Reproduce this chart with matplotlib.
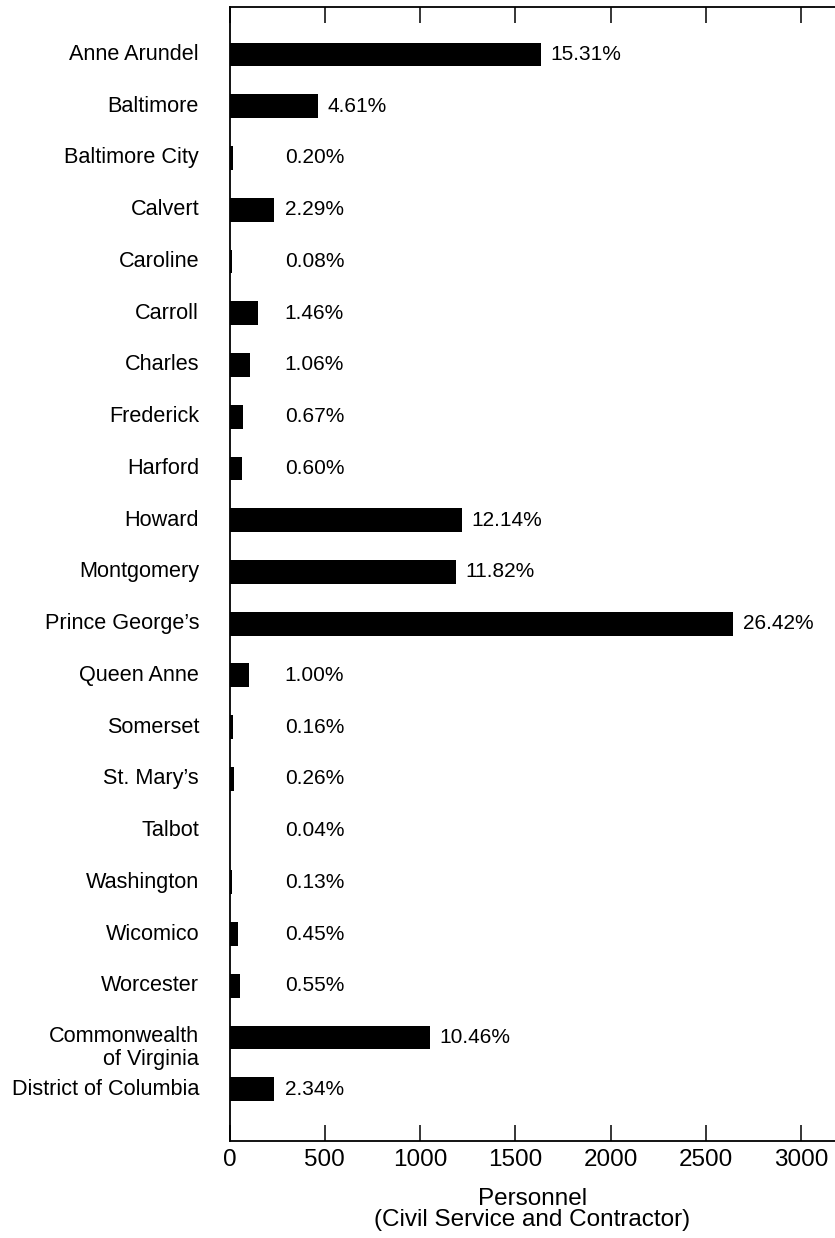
import matplotlib.pyplot as plt
import numpy as np

plt.rcParams['font.family'] = ['Liberation Sans', 'DejaVu Sans']

counties = ['Anne Arundel', 'Baltimore', 'Baltimore City', 'Calvert', 'Caroline',
            'Carroll', 'Charles', 'Frederick', 'Harford', 'Howard', 'Montgomery',
            "Prince George\u2019s", 'Queen Anne', 'Somerset', 'St. Mary\u2019s', 'Talbot',
            'Washington', 'Wicomico', 'Worcester', 'Commonwealth\nof Virginia',
            'District of Columbia']
personnel = [1635, 465, 20, 234, 12, 150, 110, 70, 63, 1220, 1188, 2643, 100,
             16, 26, 4, 15, 45, 55, 1052, 235]
percents = ['15.31%', '4.61%', '0.20%', '2.29%', '0.08%', '1.46%', '1.06%', '0.67%',
            '0.60%', '12.14%', '11.82%', '26.42%', '1.00%', '0.16%', '0.26%', '0.04%',
            '0.13%', '0.45%', '0.55%', '10.46%', '2.34%']
xticks = [0, 500, 1000, 1500, 2000, 2500, 3000]

fig = plt.figure(figsize=(8.35, 12.38), dpi=100)
ax = fig.add_axes([0.2749, 0.0784, 0.7251, 0.9160])

y = np.arange(len(counties))
ax.barh(y, personnel, height=0.46, color='black')

for i, (v, p) in enumerate(zip(personnel, percents)):
    ax.text(max(v, 240) + 50, i, p, va='center', ha='left', fontsize=15)

# category labels on the left, first line of a two-line name sits on the bar
for i, name in enumerate(counties):
    if '\n' in name:
        ax.text(-160, i + 0.21, name, va='center', ha='right', fontsize=15.6,
                linespacing=1.12)
    else:
        ax.text(-160, i, name, va='center', ha='right', fontsize=15.6)

ax.set_xlim(0, 3178)
ax.set_ylim(21.0, -0.92)
ax.set_yticks([])
ax.set_xticks(xticks)
ax.tick_params(axis='x', direction='in', length=11.5, width=1.1, top=True,
               labelsize=17.5, pad=6)
ax.spines['right'].set_visible(False)
for s in ['left', 'top', 'bottom']:
    ax.spines[s].set_linewidth(1.3)

ax.set_xlabel('Personnel\n(Civil Service and Contractor)', fontsize=17.5,
              labelpad=12, linespacing=0.95)

fig.savefig('out.png', dpi=100)
